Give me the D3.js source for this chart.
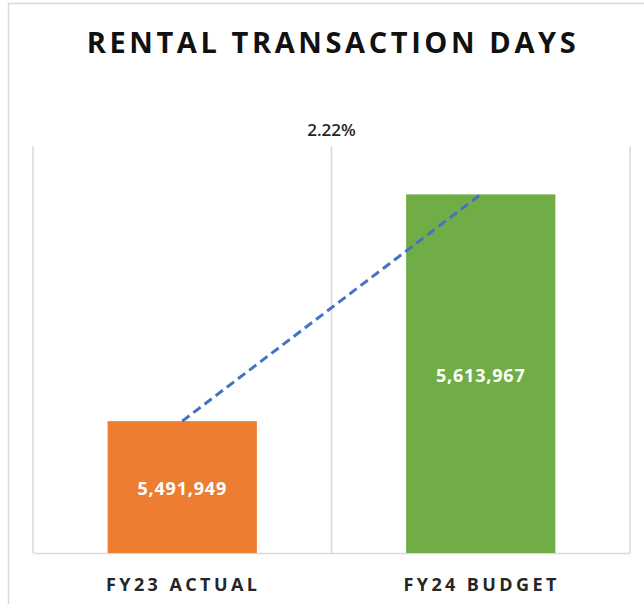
<!DOCTYPE html>
<html><head><meta charset="utf-8">
<script src="https://cdn.jsdelivr.net/npm/d3@7"></script>
<style>body{margin:0;background:#fff;}svg{display:block;}</style>
</head><body>
<svg id="c" width="644" height="604"></svg>
<script>
const categories = ["FY23 ACTUAL", "FY24 BUDGET"];
const values = [5491949, 5613967];
const colors = ["#ED7D31", "#70AD47"];
const changeLabel = "2.22%";
const title = "RENTAL TRANSACTION DAYS";
const yDomain = [5421000, 5640000];

const svg = d3.select("#c");
const W = 644, H = 604;
const m = {left: 33, right: 14, top: 146, bottom: 51};
const x = d3.scaleBand().domain(categories).range([m.left, W - m.right]).paddingInner(0).paddingOuter(0);
const y = d3.scaleLinear().domain(yDomain).range([H - m.bottom, m.top]);
const fmt = d3.format(",");

// outer border
svg.append("rect").attr("x", 8.5).attr("y", 3.5).attr("width", 660).attr("height", 620)
  .attr("fill", "#fff").attr("stroke", "#d9d9d9").attr("stroke-width", 1.5);

// vertical gridlines (category boundaries)
const bounds = categories.map(c => x(c)).concat([x.range()[1]]);
svg.append("g").selectAll("line").data(bounds).join("line")
  .attr("x1", d => d).attr("x2", d => d)
  .attr("y1", m.top).attr("y2", H - m.bottom)
  .attr("stroke", "#d9d9d9").attr("stroke-width", 1.5);

// baseline axis
const xAxis = svg.append("g").attr("transform", `translate(0,${H - m.bottom})`)
  .call(d3.axisBottom(x).tickSize(0).tickPadding(25));
xAxis.select(".domain").attr("stroke", "#d9d9d9").attr("stroke-width", 1.5);
xAxis.selectAll("text").attr("font-family", "'Open Sans', sans-serif").attr("font-weight", 700)
  .attr("font-size", 18).attr("fill", "#262626").attr("dx", "0.05em").style("letter-spacing", "3.4px");

// bars
const bw = x.bandwidth() * 0.5;
const cx = c => x(c) + x.bandwidth() / 2;
svg.append("g").selectAll("rect").data(categories).join("rect")
  .attr("x", c => cx(c) - bw / 2)
  .attr("width", bw)
  .attr("y", (c, i) => y(values[i]))
  .attr("height", (c, i) => y(yDomain[0]) - y(values[i]))
  .attr("fill", (c, i) => colors[i]);

// value labels
svg.append("g").selectAll("text").data(categories).join("text")
  .attr("x", c => cx(c))
  .attr("y", (c, i) => (y(values[i]) + y(yDomain[0])) / 2 + 2)
  .attr("dy", "0.35em")
  .attr("text-anchor", "middle")
  .attr("font-family", "'Open Sans', sans-serif").attr("font-weight", 700)
  .attr("font-size", 18).attr("fill", "#fff").style("letter-spacing", "0.8px")
  .text((c, i) => fmt(values[i]));

// dashed trend line
const line = d3.line().x(d => cx(d[0])).y(d => y(d[1]));
svg.append("path").datum(categories.map((c, i) => [c, values[i]]))
  .attr("d", line).attr("fill", "none")
  .attr("stroke", "#4472C4").attr("stroke-width", 3).attr("stroke-dasharray", "9,5");

// change label
svg.append("text").attr("x", (m.left + W - m.right) / 2).attr("y", 136)
  .attr("text-anchor", "middle").attr("font-family", "'Open Sans', sans-serif")
  .attr("font-weight", 600)
  .attr("font-size", 17).attr("fill", "#262626").text(changeLabel);

// title
svg.append("text").attr("x", 333).attr("y", 53).attr("text-anchor", "middle")
  .attr("font-family", "'Open Sans', sans-serif").attr("font-weight", 700)
  .attr("font-size", 29).attr("fill", "#111").style("letter-spacing", "3.6px")
  .text(title);
</script>
</body></html>
